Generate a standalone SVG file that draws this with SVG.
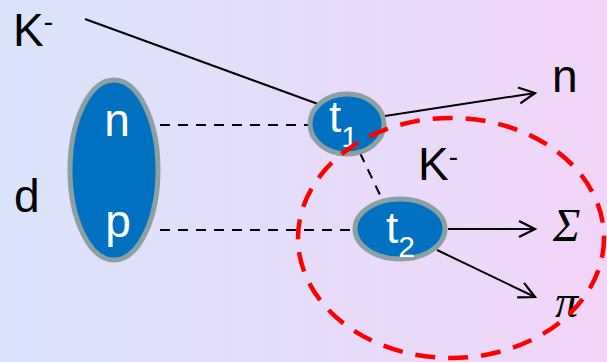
<svg xmlns="http://www.w3.org/2000/svg" width="607" height="362" viewBox="0 0 607 362">
  <defs>
    <linearGradient id="bg" x1="0" y1="0" x2="1" y2="0">
      <stop offset="0" stop-color="#d9e4fb"/>
      <stop offset="1" stop-color="#f2d5f8"/>
    </linearGradient>
    <marker id="open" viewBox="0 0 20 20" refX="18" refY="10" markerWidth="20" markerHeight="20" markerUnits="userSpaceOnUse" orient="auto">
      <path d="M2,2 L18,10 L2,18" fill="none" stroke="#000" stroke-width="2.2"/>
    </marker>
    <style>
      .blob { fill: #0070c0; stroke: #8aa0a2; stroke-width: 5; }
      .in { fill: #fff; font-family: "Liberation Sans", Arial, sans-serif; }
      .lbl { fill: #000; font-family: "Liberation Sans", Arial, sans-serif; }
      .greek { fill: #000; font-family: "Liberation Serif", "Times New Roman", serif; font-style: italic; }
      .solid { fill: none; stroke: #000; stroke-width: 2; }
      .dash { fill: none; stroke: #000; stroke-width: 2; stroke-dasharray: 10 8; }
    </style>
  </defs>

  <rect width="607" height="362" fill="url(#bg)"/>

  <g id="connectors">
    <line class="solid" x1="85" y1="19" x2="318" y2="104"/>
    <line class="dash" x1="160" y1="125" x2="309" y2="125"/>
    <line class="dash" x1="160" y1="230" x2="354" y2="230"/>
    <line class="dash" x1="360" y1="153" x2="381" y2="197"/>
    <line class="solid" x1="385" y1="116" x2="535" y2="93" marker-end="url(#open)"/>
    <line class="solid" x1="448" y1="229" x2="535" y2="229" marker-end="url(#open)"/>
    <line class="solid" x1="437" y1="250" x2="535" y2="297" marker-end="url(#open)"/>
  </g>

  <g id="deuteron">
    <ellipse class="blob" cx="114" cy="170" rx="44" ry="90"/>
    <text class="in" x="117" y="136" font-size="46" text-anchor="middle">n</text>
    <text class="in" x="118" y="237" font-size="46" text-anchor="middle">p</text>
  </g>

  <g id="t1">
    <ellipse class="blob" cx="347" cy="124" rx="37" ry="30"/>
    <text class="in" x="329" y="132" font-size="44">t<tspan font-size="30" dy="15">1</tspan></text>
  </g>

  <g id="t2">
    <ellipse class="blob" cx="400" cy="229" rx="45" ry="30"/>
    <text class="in" x="386" y="243" font-size="44">t<tspan font-size="30" dy="14">2</tspan></text>
  </g>

  <g id="labels">
    <text class="lbl" x="13" y="46" font-size="46">K<tspan font-size="28" dy="-15">-</tspan></text>
    <text class="lbl" x="14" y="212" font-size="46">d</text>
    <text class="lbl" x="552" y="92" font-size="46">n</text>
    <text class="lbl" x="418" y="180" font-size="46">K<tspan font-size="28" dy="-14">-</tspan></text>
    <text class="greek" x="553" y="241" font-size="46">Σ</text>
    <text class="greek" x="555" y="317" font-size="46">π</text>
  </g>

  <ellipse id="k-region" cx="451" cy="238" rx="153" ry="120" fill="none" stroke="#ff0000" stroke-width="4.5" stroke-dasharray="20 13"/>
</svg>
